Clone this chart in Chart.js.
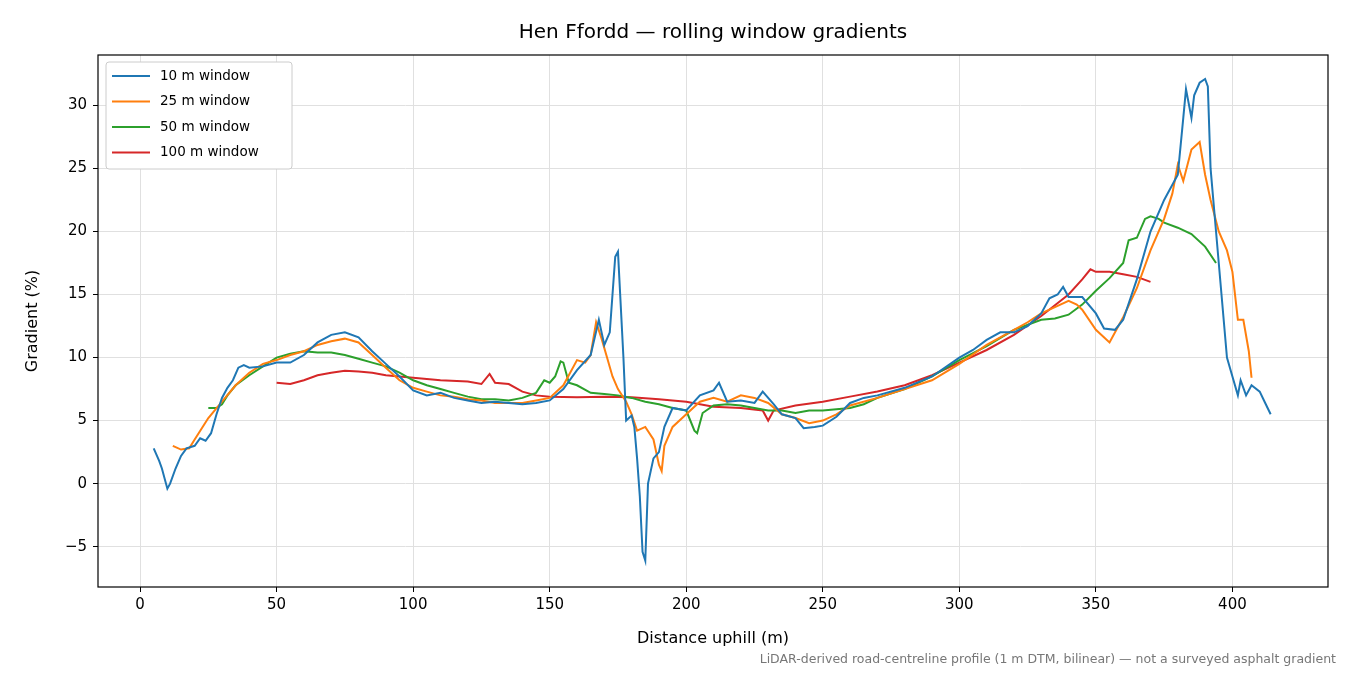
<!DOCTYPE html>
<html><head><meta charset="utf-8">
<script src="https://cdn.jsdelivr.net/npm/chart.js@4"></script>
<style>body{margin:0;background:#fff}#w{width:1350px;height:675px}</style>
</head><body><div id="w"><canvas id="c"></canvas></div>
<script>
const names=["10 m window","25 m window","50 m window","100 m window"];
const colors=["#1f77b4","#ff7f0e","#2ca02c","#d62728"];
const x10=[5,7,8,10,11,13,15,17,20,22,24,26,28,30,32,34,36,38,40,45,50,55,60,65,70,75,80,85,90,95,100,105,110,115,120,125,130,135,140,145,150,155,160,165,168,170,172,174,175,177,178,180,181,182,183,184,185,186,188,190,192,195,200,205,210,212,215,220,225,228,232,235,240,243,247,250,255,260,265,270,280,290,300,305,310,315,320,325,330,333,336,338,340,345,350,353,357,360,365,370,375,380,382,383,385,386,388,390,391,392,394,396,398,400,402,403,405,407,410,412,414];
const y10=[2.8,1.8,1.2,-0.4,0,1.2,2.2,2.8,3,3.6,3.4,4,5.5,6.8,7.6,8.2,9.2,9.4,9.2,9.3,9.6,9.6,10.2,11.2,11.8,12,11.6,10.5,9.5,8.5,7.4,7,7.2,6.8,6.6,6.4,6.5,6.4,6.3,6.4,6.6,7.5,9,10.2,13,11,12,18,18.4,10,5,5.4,4.5,2,-1,-5.4,-6.1,0,2,2.5,4.5,6,5.8,7,7.4,8,6.5,6.6,6.4,7.3,6.3,5.5,5.2,4.4,4.5,4.6,5.3,6.4,6.8,7,7.6,8.5,10,10.6,11.4,12,12,12.5,13.5,14.7,15,15.6,14.8,14.8,13.5,12.3,12.2,13,16.2,20,22.5,24.5,29,31.3,29,30.8,31.8,32.1,31.5,25,20,15,10,8.5,7,8.2,7,7.8,7.3,6.4,5.5];
const x25=[12,15,18,20,25,30,35,40,45,50,55,60,65,70,75,80,85,90,95,100,105,110,115,120,125,130,135,140,145,150,155,160,163,165,167,169,171,173,175,178,180,182,185,188,190,191,192,195,200,205,210,215,220,225,230,235,240,245,250,255,260,270,280,290,300,310,320,325,330,335,340,343,345,350,355,360,365,370,375,378,380,382,385,388,390,392,395,398,400,402,404,406,407];
const y25=[3,2.7,2.8,3.5,5.2,6.5,7.8,8.8,9.5,9.8,10.2,10.5,11,11.3,11.5,11.2,10.2,9.2,8.2,7.6,7.3,7,6.9,6.7,6.6,6.4,6.4,6.4,6.6,6.8,7.8,9.8,9.6,10.2,12.8,11.5,10,8.5,7.5,6.5,5.5,4.2,4.5,3.5,1.5,1,3,4.5,5.5,6.5,6.8,6.5,7,6.8,6.4,5.5,5.2,4.8,5,5.5,6.2,6.8,7.5,8.2,9.5,11,12.2,12.8,13.5,14,14.5,14.2,13.8,12.2,11.2,13.2,15.5,18.5,21,23,25.3,24,26.5,27.1,24.5,22.5,20,18.5,16.8,13,13,10.5,8.4];
const x50=[25,28,30,32,35,40,45,50,55,60,65,70,75,80,85,90,95,100,105,110,115,120,125,130,135,140,145,148,150,152,154,155,157,160,165,170,175,180,185,190,195,200,203,204,206,210,215,220,225,230,235,240,245,250,255,260,265,270,280,290,300,310,320,330,335,340,345,350,355,360,362,365,368,370,373,375,380,385,390,394];
const y50=[6,6,6.3,7,7.8,8.6,9.3,10,10.3,10.5,10.4,10.4,10.2,9.9,9.6,9.3,8.8,8.2,7.8,7.5,7.2,6.9,6.7,6.7,6.6,6.8,7.2,8.2,8,8.5,9.7,9.6,8,7.8,7.2,7.1,7,6.8,6.5,6.3,6,5.8,4.2,4,5.6,6.2,6.3,6.2,6,5.8,5.8,5.6,5.8,5.8,5.9,6,6.3,6.8,7.5,8.5,9.8,10.9,12.2,13,13.1,13.4,14.2,15.3,16.3,17.5,19.3,19.5,21,21.2,21,20.7,20.3,19.8,18.8,17.5];
const x100=[50,55,60,65,70,75,80,85,90,95,100,110,120,125,128,130,135,140,145,150,160,170,180,190,200,210,220,228,230,232,240,250,260,270,280,290,300,310,320,330,340,345,348,350,355,360,365,370];
const y100=[8,7.9,8.2,8.6,8.8,8.95,8.9,8.8,8.6,8.5,8.4,8.2,8.1,7.9,8.7,8,7.9,7.3,7,6.9,6.85,6.9,6.85,6.7,6.5,6.1,6,5.8,5,5.8,6.2,6.5,6.9,7.3,7.8,8.6,9.6,10.6,11.8,13.3,15,16.2,17,16.8,16.8,16.6,16.4,16];
const xTicks=[0,50,100,150,200,250,300,350,400];
const yTicks=[-5,0,5,10,15,20,25,30];
const XS=[x10,x25,x50,x100],YS=[y10,y25,y50,y100];
const F='"DejaVu Sans", sans-serif';
const datasets=names.map((n,i)=>({label:n,data:XS[i].map((x,j)=>({x,y:YS[i][j]})),borderColor:colors[i],borderWidth:2,pointRadius:0,showLine:true,tension:0}));
const deco={id:'deco',afterDraw(c){const g=c.ctx,a=c.chartArea;g.save();
g.strokeStyle='#000';g.lineWidth=1.2;g.strokeRect(a.left,a.top,a.right-a.left,a.bottom-a.top);
g.fillStyle='#000';g.textAlign='center';g.textBaseline='middle';
g.font='20px '+F;g.fillText('Hen Ffordd — rolling window gradients',713,33);
g.font='16px '+F;g.fillText('Distance uphill (m)',713,639);
g.save();g.translate(33,321);g.rotate(-Math.PI/2);g.fillText('Gradient (%)',0,0);g.restore();
g.font='12.5px '+F;g.fillStyle='#777';g.textAlign='right';g.fillText('LiDAR-derived road-centreline profile (1 m DTM, bilinear) — not a surveyed asphalt gradient',1336,660);
g.fillStyle='#fff';g.strokeStyle='#ccc';g.lineWidth=1;g.beginPath();g.roundRect(106,62,186,107,3);g.fill();g.stroke();
g.font='13.5px '+F;g.textAlign='left';
names.forEach((n,i)=>{const y=76+i*25.5;g.strokeStyle=colors[i];g.lineWidth=2;g.beginPath();g.moveTo(112,y);g.lineTo(150,y);g.stroke();g.fillStyle='#000';g.fillText(n,160,y);});
g.restore();}};
new Chart(document.getElementById('c'),{type:'scatter',data:{datasets},plugins:[deco],
options:{responsive:true,maintainAspectRatio:false,animation:false,layout:{padding:{top:55,right:22,left:0,bottom:0}},
plugins:{legend:{display:false},tooltip:{enabled:false}},
scales:{x:{type:'linear',min:-15.4,max:435,afterFit(s){s.height=88;},afterBuildTicks(s){s.ticks=xTicks.map(v=>({value:v}));},
grid:{color:'#e0e0e0',drawTicks:true,tickColor:'#000',tickLength:5},border:{display:false},
ticks:{color:'#000',font:{family:F,size:15},padding:4,maxRotation:0}},
y:{min:-8.2,max:34.0,afterFit(s){s.width=98;},afterBuildTicks(s){s.ticks=yTicks.map(v=>({value:v}));},
grid:{color:'#e0e0e0',tickColor:'#000',tickLength:5},border:{display:false},
ticks:{color:'#000',font:{family:F,size:15},padding:6,callback:v=>String(v).replace('-','\u2212')}}}}});
</script></body></html>
